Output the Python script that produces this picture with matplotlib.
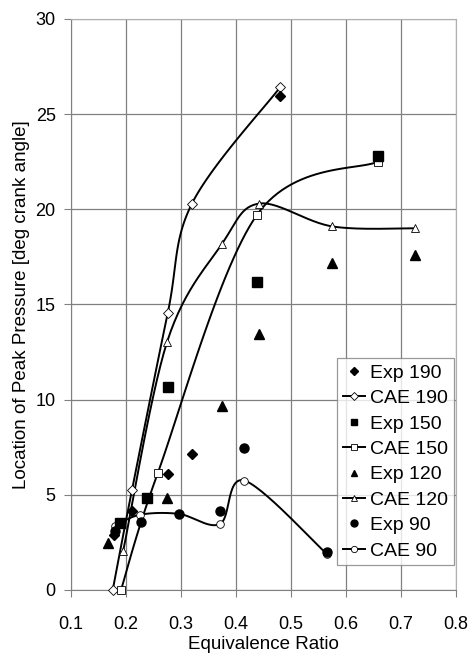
import numpy as np
import matplotlib
matplotlib.use('Agg')
import matplotlib.pyplot as plt
from matplotlib.lines import Line2D

plt.rcParams['font.family'] = ['Liberation Sans', 'DejaVu Sans']

# 实验值 (filled markers)
exp190_x = [0.178, 0.211, 0.276, 0.32, 0.48]
exp190_y = [2.9, 4.15, 6.1, 7.15, 25.95]
exp150_x = [0.19, 0.238, 0.277, 0.438, 0.658]
exp150_y = [3.5, 4.85, 10.67, 16.2, 22.8]
exp120_x = [0.168, 0.275, 0.375, 0.442, 0.575, 0.725]
exp120_y = [2.45, 4.85, 9.65, 13.45, 17.2, 17.6]
exp90_x = [0.18, 0.227, 0.296, 0.371, 0.415, 0.565]
exp90_y = [3.1, 3.55, 4.0, 4.15, 7.45, 2.0]

# CAE 计算值 (open markers, smoothed lines)
cae190_x = [0.176, 0.211, 0.276, 0.32, 0.48]
cae190_y = [0.0, 5.25, 14.55, 20.3, 26.4]
cae150_x = [0.191, 0.258, 0.438, 0.658]
cae150_y = [0.0, 6.15, 19.7, 22.5]
cae120_x = [0.195, 0.275, 0.375, 0.442, 0.575, 0.725]
cae120_y = [2.05, 13.05, 18.2, 20.3, 19.1, 19.0]
cae90_x = [0.18, 0.225, 0.296, 0.371, 0.415, 0.565]
cae90_y = [3.35, 3.95, 4.0, 3.47, 5.75, 1.9]


def smooth(xs, ys, n=30):
    # Excel-style smoothing: cubic bezier with catmull-rom control points
    p = np.column_stack([xs, ys]).astype(float)
    ext = np.vstack([p[0], p, p[-1]])
    out = []
    t = np.linspace(0, 1, n)[:, None]
    for i in range(len(p) - 1):
        p0 = ext[i + 1]
        p3 = ext[i + 2]
        c1 = p0 + (ext[i + 2] - ext[i]) / 6.0
        c2 = p3 - (ext[i + 3] - ext[i + 1]) / 6.0
        seg = ((1 - t) ** 3) * p0 + 3 * ((1 - t) ** 2) * t * c1 + 3 * (1 - t) * t ** 2 * c2 + t ** 3 * p3
        out.append(seg)
    out = np.vstack(out)
    return out[:, 0], out[:, 1]


fig = plt.figure(figsize=(4.76, 6.53), dpi=100)
ax = fig.add_axes([0.149, 0.0965, 0.809, 0.8745])

ax.set_xlim(0.1, 0.8)
ax.set_ylim(0, 30)
ax.set_xticks(np.arange(0.1, 0.81, 0.1))
ax.set_yticks(np.arange(0, 31, 5))
ax.set_xticklabels(['0.1', '0.2', '0.3', '0.4', '0.5', '0.6', '0.7', '0.8'])
ax.grid(True, color='#808080', linewidth=0.9)
ax.set_axisbelow(True)
for s in ['top', 'right']:
    ax.spines[s].set_color('#b0b0b0')
for s in ['left', 'bottom']:
    ax.spines[s].set_color('#808080')
ax.tick_params(direction='out', length=5, color='#808080', labelsize=13)
ax.tick_params(axis='x', pad=14)
ax.tick_params(axis='y', pad=6)

lw = 1.4
series = [
    (exp190_x, exp190_y, cae190_x, cae190_y, 'D', '190', 5.5, 5.0),
    (exp150_x, exp150_y, cae150_x, cae150_y, 's', '150', 6.5, 6.0),
    (exp120_x, exp120_y, cae120_x, cae120_y, '^', '120', 6.5, 6.0),
    (exp90_x, exp90_y, cae90_x, cae90_y, 'o', '90', 6.5, 5.5),
]
handles = []
for ex, ey, cx, cy, m, name, ms_e, ms_c in series:
    sx, sy = smooth(cx, cy)
    ax.plot(sx, sy, color='black', linewidth=lw, zorder=3, clip_on=False)
    ax.plot(cx, cy, linestyle='none', marker=m, markersize=ms_c, markerfacecolor='white',
            markeredgecolor='black', markeredgewidth=0.6, zorder=4, clip_on=False)
    ax.plot(ex, ey, linestyle='none', marker=m, markersize=ms_e, color='black', zorder=5, clip_on=False)
    handles.append(Line2D([], [], linestyle='none', marker=m, markersize=ms_e - 1.5, color='black',
                          label='Exp ' + name))
    handles.append(Line2D([], [], color='black', linewidth=lw, marker=m, markersize=ms_c - 1,
                          markerfacecolor='white', markeredgecolor='black', markeredgewidth=0.6,
                          label='CAE ' + name))

leg = ax.legend(handles=handles, loc='lower right', bbox_to_anchor=(0.995, 0.043),
                fontsize=14, frameon=True, fancybox=False, edgecolor='#808080',
                handlelength=1.15, handletextpad=0.25, labelspacing=0.4, borderpad=0.3,
                borderaxespad=0.0)
leg.get_frame().set_linewidth(0.9)

ax.set_xlabel('Equivalence Ratio', fontsize=13.5, labelpad=2)
ax.set_ylabel('Location of Peak Pressure [deg crank angle]', fontsize=13.5, labelpad=4)

fig.savefig('out.png', dpi=100)
